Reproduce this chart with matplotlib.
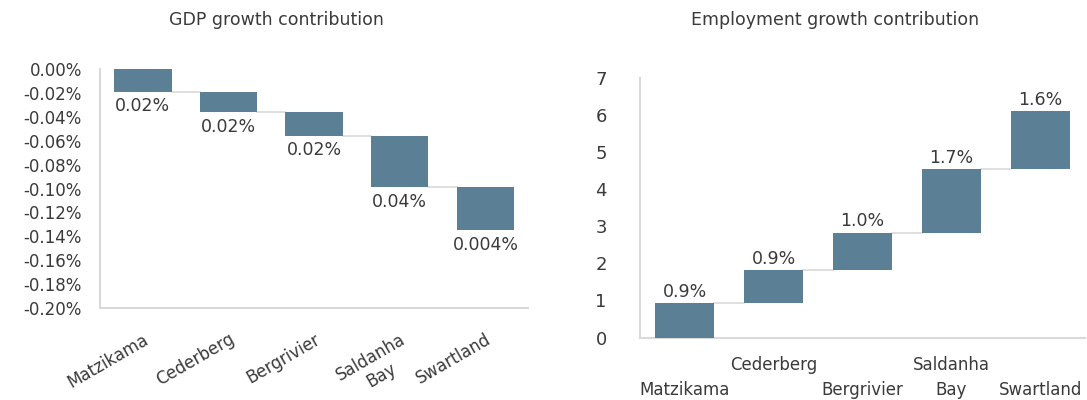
import numpy as np
import matplotlib
matplotlib.use("Agg")
import matplotlib.pyplot as plt

# regional contributions, in percentage points
regions = ["Matzikama", "Cederberg", "Bergrivier", "Saldanha Bay", "Swartland"]
gdp_contrib = [-0.019, -0.017, -0.020, -0.043, -0.036]
gdp_labels = ["0.02%", "0.02%", "0.02%", "0.04%", "0.004%"]
emp_contrib = [0.92, 0.89, 1.00, 1.72, 1.56]

gdp_ticks = [0.00, -0.02, -0.04, -0.06, -0.08, -0.10, -0.12, -0.14, -0.16, -0.18, -0.20]
emp_ticks = [0, 1, 2, 3, 4, 5, 6, 7]

bar_col = "#5B7F95"
grid_col = "#D9D9D9"
txt_col = "#3A3A3A"

plt.rcParams['font.family'] = ['DejaVu Sans']
plt.rcParams['font.size'] = 12
plt.rcParams['text.color'] = txt_col


def waterfall(ax, vals, width):
    x = np.arange(len(vals))
    ends = np.cumsum(vals)
    starts = ends - np.array(vals)
    ax.bar(x, vals, bottom=starts, width=width, color=bar_col, zorder=3)
    # connectors between consecutive bars
    for i in range(len(vals) - 1):
        ax.plot([x[i] + width / 2, x[i + 1] - width / 2], [ends[i], ends[i]],
                color=grid_col, lw=1.2, zorder=2)
    return x, starts, ends


def style(ax):
    for s in ["top", "right"]:
        ax.spines[s].set_visible(False)
    for s in ["left", "bottom"]:
        ax.spines[s].set_color(grid_col)
        ax.spines[s].set_linewidth(1.5)
    ax.tick_params(length=0, colors=txt_col, labelsize=12)


fig = plt.figure(figsize=(10.87, 4), dpi=100)

# GDP panel
ax1 = fig.add_axes([0.092, 0.23, 0.394, 0.5975])
x, starts, ends = waterfall(ax1, gdp_contrib, 0.67)
ax1.set_xlim(-0.5, 4.5)
ax1.set_ylim(-0.20, 0.0)
ax1.set_yticks(gdp_ticks)
ax1.set_yticklabels(["%.2f%%" % abs(t) if t == 0 else "%.2f%%" % t for t in gdp_ticks])
for xi, e, lab in zip(x, ends, gdp_labels):
    ax1.annotate(lab, (xi, e), xytext=(0, -4), textcoords="offset points",
                 ha="center", va="top", fontsize=12.5, color=txt_col)
ax1.set_xticks(x)
ax1.set_xticklabels([r.replace(" ", "\n") for r in regions], rotation=30,
                    ha="right", rotation_mode="anchor", multialignment="center",
                    fontsize=13)
style(ax1)
ax1.tick_params(axis="y", pad=13)
ax1.tick_params(axis="x", pad=16)
fig.text(0.2544, 0.95, "GDP growth contribution", ha="center", va="center", fontsize=12.5)

# employment panel
ax2 = fig.add_axes([0.5888, 0.156, 0.4094, 0.65])
x, starts, ends = waterfall(ax2, emp_contrib, 0.66)
ax2.set_xlim(-0.5, 4.5)
ax2.set_ylim(0, 7)
ax2.set_yticks(emp_ticks)
for xi, e, v in zip(x, ends, emp_contrib):
    ax2.annotate("%.1f%%" % v, (xi, e), xytext=(0, 2), textcoords="offset points",
                 ha="center", va="bottom", fontsize=12.5, color=txt_col)
ax2.set_xticks(x)
stagger = ["\n" + r if i % 2 == 0 else r for i, r in enumerate(regions)]
stagger[3] = "Saldanha\nBay"
ax2.set_xticklabels(stagger, linespacing=1.5, fontsize=12.5)
style(ax2)
ax2.tick_params(axis="y", pad=24, labelsize=13)
ax2.tick_params(axis="x", pad=13)
fig.text(0.768, 0.95, "Employment growth contribution", ha="center", va="center", fontsize=12.5)

fig.savefig("out.png", dpi=100)
